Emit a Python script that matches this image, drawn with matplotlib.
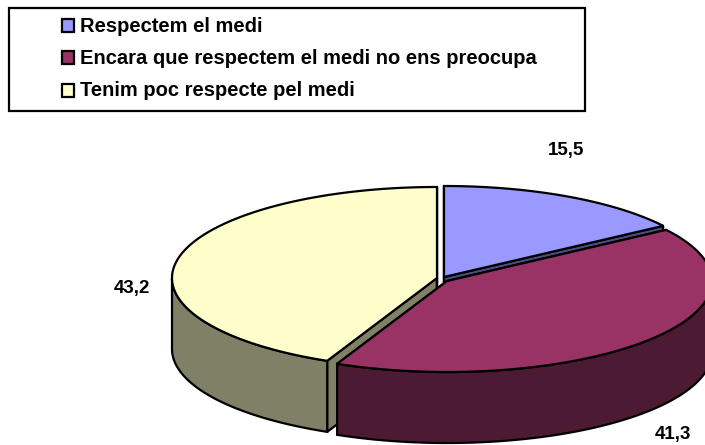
import numpy as np
import matplotlib
matplotlib.use('Agg')
import matplotlib.pyplot as plt
from matplotlib.patches import Rectangle

categories = ['Respectem el medi', 'Encara que respectem el medi no ens preocupa', 'Tenim poc respecte pel medi']
values = [15.5, 41.3, 43.2]
value_labels = ['15,5', '41,3', '43,2']

top_colors = ['#9999FF', '#993366', '#FFFFCC']
side_colors = ['#4D4D80', '#4D1A33', '#808066']

# layout in pixels of the 705x445 picture
rx, ry, depth = 265, 91, 71
centers = [(444, 277), (447, 281), (437, 278)]
label_pos = [(566, 150), (673, 434), (132, 288)]
legend_y = [25, 57, 90]

plt.rcParams['font.family'] = ['Liberation Sans', 'DejaVu Sans']

fig = plt.figure(figsize=(7.05, 4.45), dpi=100)
ax = fig.add_axes([0, 0, 1, 1])
ax.set_xlim(0, 705)
ax.set_ylim(445, 0)
ax.axis('off')


def arc(center, a0, a1, dy=0):
    t = np.radians(np.linspace(a0, a1, 120))
    return center[0] + rx * np.cos(t), center[1] + dy - ry * np.sin(t)


# slices go clockwise from the top
ends = 90 - np.cumsum(values) * 3.6
starts = np.concatenate([[90], ends[:-1]])

for i in [0, 2, 1]:
    c = centers[i]
    a0, a1 = starts[i], ends[i]

    # cut faces
    for a in (a0, a1):
        x, y = arc(c, a, a)
        ax.fill([c[0], x[0], x[0], c[0]], [c[1], y[0], y[0] + depth, c[1] + depth],
                fc=side_colors[i], ec='black', lw=1.6, joinstyle='round')

    # outer wall, only the part on the front half shows
    w0, w1 = min(a0, 0), max(a1, -180)
    if w0 > w1:
        x, y = arc(c, w0, w1)
        x2, y2 = arc(c, w1, w0, depth)
        ax.fill(np.r_[x, x2], np.r_[y, y2], fc=side_colors[i], ec='black', lw=1.6)

    # top face
    x, y = arc(c, a0, a1)
    ax.fill(np.r_[c[0], x], np.r_[c[1], y], fc=top_colors[i], ec='black', lw=1.6)

for lab, pos in zip(value_labels, label_pos):
    ax.text(pos[0], pos[1], lab, ha='center', va='center', fontsize=13.5, fontweight='bold')

# legend box
ax.add_patch(Rectangle((9, 8), 576, 103, fc='white', ec='black', lw=1.6))
for name, col, y in zip(categories, top_colors, legend_y):
    ax.add_patch(Rectangle((61.5, y - 6.5), 12.5, 13, fc=col, ec='black', lw=1.6))
    ax.text(79.5, y + 1, name, ha='left', va='center', fontsize=14.5, fontweight='bold')

fig.savefig('out.png', dpi=100)
